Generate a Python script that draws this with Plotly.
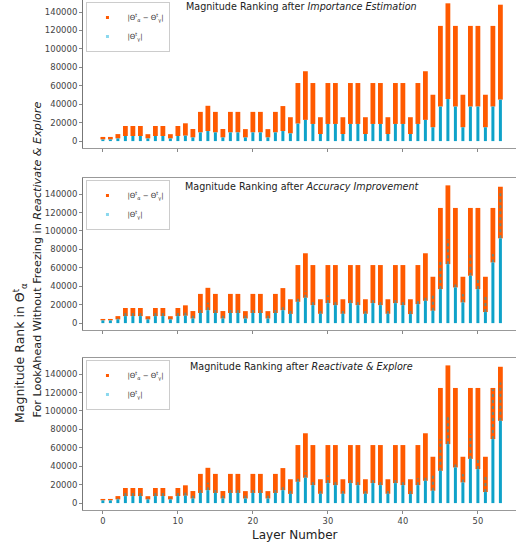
import plotly.graph_objects as go

layers = list(range(54))

# top of orange |theta_a - theta_g| ranks (same in all panels)
orange_max = [4500, 4500, 7600, 16400, 16400, 16400, 7500, 16400, 16400, 7500,
              16400, 19300, 13100, 31700, 38300, 31700, 13100, 31700, 31700, 13000,
              31700, 31700, 13000, 31700, 38000, 25900, 63000, 75800, 63000, 25900,
              63000, 63000, 25900, 63000, 63000, 25900, 63000, 63000, 25900, 63000,
              63000, 25900, 63000, 75800, 50300, 125000, 149500, 125000, 50300, 125000,
              125000, 50300, 125000, 148000]

# blue |theta_g| rank extents, panel 1 (Importance Estimation)
blue_solid_1 = [1800, 1800, 2900, 5500, 5500, 5500, 2900, 5500, 5500, 2900,
                5500, 5900, 4000, 9500, 10900, 9500, 4000, 9500, 9500, 4000,
                9500, 9500, 4000, 9500, 10900, 8400, 19000, 23000, 18600, 7700,
                18600, 18600, 7700, 18600, 18600, 7700, 18600, 18600, 7700, 18600,
                18600, 7700, 18600, 23000, 15000, 37500, 45600, 37500, 15000, 37500,
                37500, 15000, 37500, 45000]
blue_dots_1 = blue_solid_1

# panel 2 (Accuracy Improvement)
blue_solid_2 = [3000, 3000, 4000, 7600, 7600, 7600, 4000, 7600, 7600, 4000,
                7600, 8000, 5000, 11000, 14000, 11000, 5000, 11000, 11000, 5000,
                11000, 11000, 5000, 11000, 14000, 10000, 23100, 27500, 19500, 10100,
                21700, 19500, 10100, 21700, 19500, 10100, 21700, 19500, 10100, 21700,
                19500, 9800, 20600, 24200, 13400, 36900, 64000, 38700, 22400, 51400,
                36900, 12000, 65800, 92000]
blue_dots_2 = [3000, 3000, 5000, 13000, 13000, 11000, 5000, 11000, 11000, 5000,
               11000, 14000, 8000, 18000, 22000, 16000, 8000, 16000, 16000, 8000,
               16000, 16000, 8000, 16000, 20000, 14000, 30000, 35000, 25000, 13000,
               30000, 25000, 13000, 28000, 25000, 13000, 28000, 25000, 13000, 28000,
               25000, 13000, 27000, 30000, 29600, 69500, 91000, 45000, 31500, 74900,
               49000, 31500, 75000, 145000]

# panel 3 (Reactivate & Explore)
blue_solid_3 = [3000, 3000, 4000, 7600, 7600, 7600, 4000, 7600, 7600, 4000,
                7600, 8000, 5000, 11000, 14000, 11000, 5000, 11000, 11000, 5000,
                11000, 11000, 5000, 11000, 14000, 10000, 23100, 27500, 19500, 10100,
                21700, 19500, 10100, 21700, 19500, 10100, 21700, 19500, 10100, 21700,
                19500, 9800, 19500, 24200, 13400, 35000, 64000, 38700, 22400, 48000,
                36900, 12000, 69500, 89300]
blue_dots_3 = [3000, 3000, 5000, 13000, 13000, 11000, 5000, 11000, 11000, 5000,
               11000, 14000, 8000, 18000, 22000, 16000, 8000, 16000, 16000, 8000,
               16000, 16000, 8000, 16000, 20000, 14000, 30000, 35000, 25000, 13000,
               30000, 25000, 13000, 28000, 25000, 13000, 28000, 25000, 13000, 28000,
               25000, 13000, 27000, 30000, 29600, 69500, 94700, 45000, 31500, 75000,
               49000, 31500, 123700, 131000]

titles = ["Magnitude Ranking after <i>Importance Estimation</i>",
          "Magnitude Ranking after <i>Accuracy Improvement</i>",
          "Magnitude Ranking after <i>Reactivate &amp; Explore</i>"]
y_ticks = [0, 20000, 40000, 60000, 80000, 100000, 120000, 140000]
x_ticks = [0, 10, 20, 30, 40, 50]

legend_diff = "|Θ<sup>t</sup><sub>α</sub> − Θ<sup>t</sup><sub>γ</sub>|"
legend_abs = "|Θ<sup>t</sup><sub>γ</sub>|"

ORANGE = "#ff5a00"
BLUE = "#0ea2c9"
LIGHTBLUE = "#8ad8ee"
FONT = "DejaVu Sans"

def segs(xs, lo, hi):
    X, Y = [], []
    for x, a, b in zip(xs, lo, hi):
        X += [x, x, None]
        Y += [a, b, None]
    return X, Y

fig = go.Figure()

panels = [(blue_solid_1, blue_dots_1), (blue_solid_2, blue_dots_2), (blue_solid_3, blue_dots_3)]
domains = [[0.7098, 1.0], [0.3529, 0.651], [0.0, 0.298]]
ranges = [[-7500, 153100], [-7500, 157500], [-7500, 157500]]

for i, (bs, bd) in enumerate(panels):
    n = i + 1
    xa = "x" if n == 1 else f"x{n}"
    ya = "y" if n == 1 else f"y{n}"
    lg = "legend" if n == 1 else f"legend{n}"
    X, Y = segs(layers, bs, orange_max)
    fig.add_trace(go.Scatter(x=X, y=Y, mode="lines", line=dict(color=ORANGE, width=4.8),
                             xaxis=xa, yaxis=ya, showlegend=False, hoverinfo="skip"))
    X, Y = segs(layers, [0] * len(layers), bs)
    fig.add_trace(go.Scatter(x=X, y=Y, mode="lines", line=dict(color=BLUE, width=3),
                             xaxis=xa, yaxis=ya, showlegend=False, hoverinfo="skip"))
    if bd is not bs:
        X, Y = segs(layers, bs, bd)
        fig.add_trace(go.Scatter(x=X, y=Y, mode="lines",
                                 line=dict(color=BLUE, width=2, dash="dot"),
                                 opacity=0.6,
                                 xaxis=xa, yaxis=ya, showlegend=False, hoverinfo="skip"))
    # legend entries
    fig.add_trace(go.Scatter(x=[None], y=[None], mode="markers", name=legend_diff,
                             marker=dict(color=ORANGE, size=3, symbol="square"),
                             xaxis=xa, yaxis=ya, legend=lg))
    fig.add_trace(go.Scatter(x=[None], y=[None], mode="markers", name=legend_abs,
                             marker=dict(color=LIGHTBLUE, size=3, symbol="square"),
                             xaxis=xa, yaxis=ya, legend=lg))

    fig.add_annotation(text=titles[i], x=26.5, xref=xa, y=domains[i][1],
                       yref="paper", yanchor="top", yshift=1 if n == 1 else -1,
                       showarrow=False, font=dict(family=FONT, size=9.6, color="#222"))

    fig.layout[f"xaxis{'' if n == 1 else n}"] = dict(
        domain=[0, 1], anchor=ya, range=[-2.65, 55.08], tickvals=x_ticks,
        showticklabels=(n == 3), ticks="outside", ticklen=3, tickcolor="#888",
        showline=True, linecolor="#999", linewidth=1, mirror=(n != 1),
        showgrid=False, zeroline=False, automargin=False,
        tickfont=dict(family=FONT, size=8.3, color="#444"))
    fig.layout[f"yaxis{'' if n == 1 else n}"] = dict(
        domain=domains[i], anchor=xa, range=ranges[i], tickvals=y_ticks,
        tickformat="d", ticks="outside", ticklen=3, tickcolor="#888",
        showline=True, linecolor="#777", linewidth=1,
        showgrid=False, zeroline=False, automargin=False,
        tickfont=dict(family=FONT, size=8.5, color="#444"))
    fig.layout[lg] = dict(x=0.008, y=domains[i][1] - 0.004, xanchor="left", yanchor="top",
                          bgcolor="rgba(255,255,255,0.9)", bordercolor="#ccc", borderwidth=1,
                          font=dict(family=FONT, size=7, color="#333"),
                          itemwidth=30, tracegroupgap=0)

fig.add_annotation(text="Layer Number", x=0.49, xref="paper", y=-0.049, yref="paper",
                   yanchor="middle", showarrow=False,
                   font=dict(family=FONT, size=12, color="#222"))
fig.add_annotation(text="Magnitude Rank in Θ<sup>t</sup><sub>α</sub>", textangle=-90,
                   x=-0.1455, xref="paper", y=0.1667, yref="paper",
                   xanchor="center", yanchor="bottom", showarrow=False,
                   font=dict(family=FONT, size=12.5, color="#222"))
fig.add_annotation(text="For LookAhead Without Freezing in <i>Reactivate &amp; Explore</i>",
                   textangle=-90, x=-0.105, xref="paper", y=0.1765, yref="paper",
                   xanchor="center", yanchor="bottom", showarrow=False,
                   font=dict(family=FONT, size=11.2, color="#222"))

fig.update_layout(width=516, height=548, margin=dict(l=83, r=0, t=0, b=38, autoexpand=False),
                  plot_bgcolor="white", paper_bgcolor="white", showlegend=True)

fig.write_html("out.html", config={"displayModeBar": False},
               post_script="document.body.style.margin='0';document.body.style.overflow='hidden';")
